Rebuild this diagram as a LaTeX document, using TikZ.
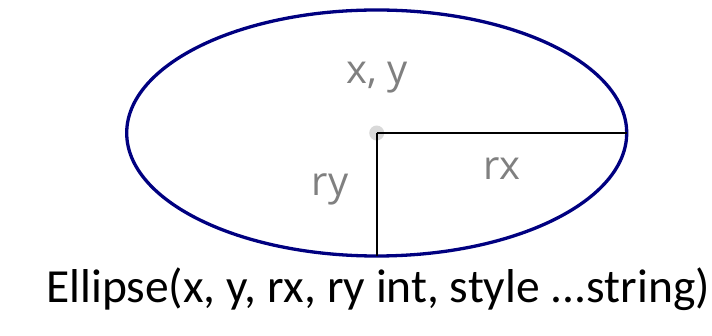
\documentclass[tikz,border=0pt]{standalone}
\usepackage{fontspec}
\setmainfont{Carlito}
\newfontfamily\labelfont{Open Sans}
\usetikzlibrary{shapes.geometric}
\definecolor{ellipseNavy}{HTML}{000080}
\definecolor{labelGray}{HTML}{808080}

\begin{document}
\begin{tikzpicture}[x=1pt, y=-1pt, every node/.style={font=\fontsize{47.5}{50}\selectfont}]
            \useasboundingbox (0,0) rectangle (712,336);
            \tikzset{
                radiuslabel/.style={font=\labelfont\fontsize{40}{42}\selectfont, text=labelGray, anchor=base},
                radiusline/.style={draw=black, line width=1.8pt}
            }
            % the ellipse and its centre
            \node[ellipse, draw=ellipseNavy, line width=3.3pt, inner sep=0pt, outer sep=0pt,
                minimum width=500pt, minimum height=246pt] (ell) at (376.7,133) {};
            \node[circle, fill=black!15, inner sep=0pt, minimum size=15pt] (centre) at (ell.center) {};
            \draw[radiusline] (ell.center) -- (ell.east);
            \draw[radiusline] (ell.center) -- (ell.south);
            % labels
            \node[radiuslabel] (xy) at (377,84) {x, y};
            \node[radiuslabel] (rx) at (502,180) {rx};
            \node[radiuslabel] (ry) at (330,196) {ry};
            \node[anchor=base west, inner sep=0pt] (call) at (46,303) {Ellipse(x, y, rx, ry int, style ...string)};
        \end{tikzpicture}
\end{document}
